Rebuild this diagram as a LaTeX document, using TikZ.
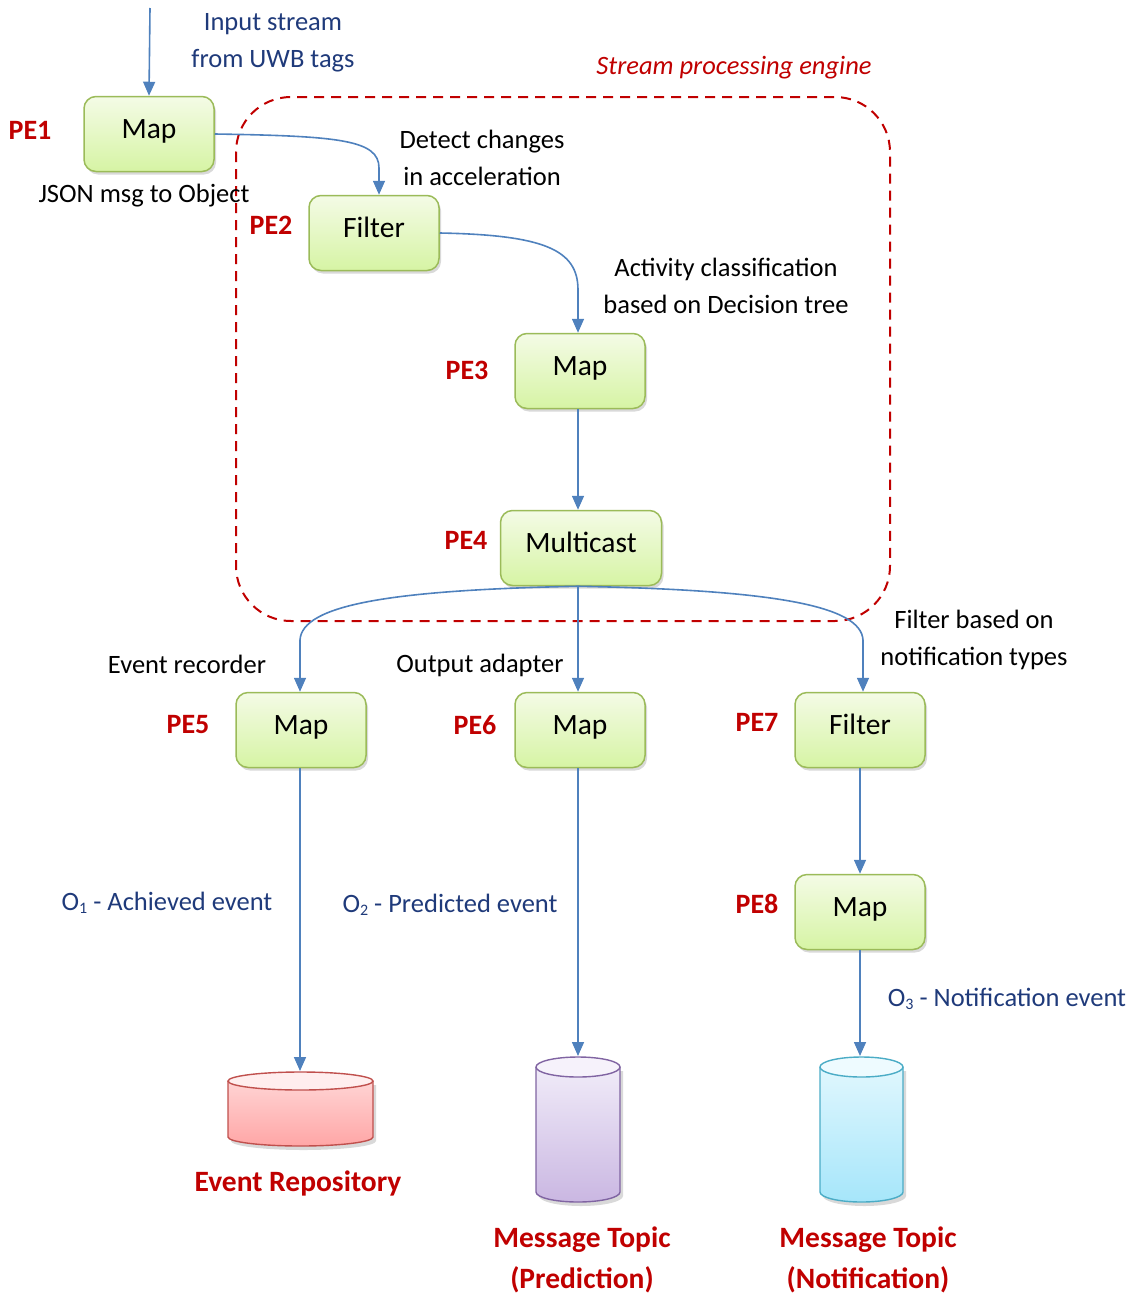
\documentclass[tikz,border=0pt]{standalone}
\usepackage{fontspec}
\setmainfont{Carlito}
\usetikzlibrary{arrows.meta,shadows,calc}

\definecolor{flowblue}{HTML}{4F81BD}
\definecolor{pered}{HTML}{C00000}
\definecolor{navytext}{HTML}{1F3A7A}
\definecolor{boxedge}{HTML}{9BBB59}
\definecolor{boxtop}{HTML}{F4FBE6}
\definecolor{boxbot}{HTML}{D6F4A4}
\definecolor{repoedge}{HTML}{C0504D}
\definecolor{repotop}{HTML}{FFDADA}
\definecolor{repobot}{HTML}{FFA6A6}
\definecolor{repocap}{HTML}{FFEEEE}
\definecolor{prededge}{HTML}{8064A2}
\definecolor{predtop}{HTML}{F3EFFA}
\definecolor{predbot}{HTML}{CAB7E2}
\definecolor{predcap}{HTML}{F6F2FB}
\definecolor{notiedge}{HTML}{4BACC6}
\definecolor{notitop}{HTML}{E4F8FE}
\definecolor{notibot}{HTML}{A6E6FA}
\definecolor{noticap}{HTML}{EEFBFF}

\tikzset{
  pebox/.style={draw=boxedge, line width=1.5pt, rounded corners=12pt,
    top color=boxtop, bottom color=boxbot,
    minimum width=130pt, minimum height=75pt, inner sep=0pt,
    text height=22pt, text depth=13pt,
    font=\fontsize{29.5}{34}\selectfont,
    drop shadow={shadow xshift=2pt, shadow yshift=-3pt, opacity=0.3}},
  pelabel/.style={text=pered, font=\fontsize{28}{32}\selectfont\bfseries, inner sep=0pt},
  note/.style={font=\fontsize{26.5}{37}\selectfont, align=center, inner sep=0pt},
  flow/.style={draw=flowblue, line width=1.6pt, -{Triangle[width=12pt,length=14pt]}},
  storelabel/.style={text=pered, font=\fontsize{29.5}{41}\selectfont\bfseries, align=center, inner sep=0pt}
}
\newcommand{\sbs}[1]{\raisebox{-3pt}{\fontsize{16}{16}\selectfont #1}}

\begin{document}
\begin{tikzpicture}[x=1pt,y=1pt]
\useasboundingbox (0,0) rectangle (1133,-1296);

% engine boundary
\draw[pered, line width=2pt, dash pattern=on 10pt off 7pt, rounded corners=55pt]
  (236,-97) rectangle (890,-621);
\node[note, text=pered, font=\fontsize{26.5}{32}\selectfont\itshape] (engine) at (734,-68) {Stream processing engine};

% processing elements
\node[pebox] (PE1) at (149,-134) {Map};
\node[pebox] (PE2) at (374,-233) {Filter};
\node[pebox] (PE3) at (580,-371) {Map};
\node[pebox, minimum width=161pt] (PE4) at (581,-548) {Multicast};
\node[pebox] (PE5) at (301,-730) {Map};
\node[pebox] (PE6) at (580,-730) {Map};
\node[pebox] (PE7) at (860,-730) {Filter};
\node[pebox] (PE8) at (860,-912) {Map};

\node[pelabel] (L1) at (30,-130) {PE1};
\node[pelabel] (L2) at (271,-225) {PE2};
\node[pelabel] (L3) at (467,-370) {PE3};
\node[pelabel] (L4) at (466,-540) {PE4};
\node[pelabel] (L5) at (188,-725) {PE5};
\node[pelabel] (L6) at (475,-725) {PE6};
\node[pelabel] (L7) at (757,-722) {PE7};
\node[pelabel] (L8) at (757,-904) {PE8};

% annotations
\node[note, text=navytext] (instream) at (273,-43) {Input stream\\from UWB tags};
\node[note] (json) at (144,-196) {JSON msg to Object};
\node[note] (detect) at (482,-158) {Detect changes\\in acceleration};
\node[note] (activity) at (726,-286) {Activity classification\\based on Decision tree};
\node[note] (recorder) at (187,-664) {Event recorder};
\node[note] (adapter) at (480,-665) {Output adapter};
\node[note] (notif) at (974,-640) {Filter based on\\notification types};
\node[note, text=navytext] (o1) at (167,-903) {O\sbs{1} - Achieved event};
\node[note, text=navytext] (o2) at (450,-905) {O\sbs{2} - Predicted event};
\node[note, text=navytext] (o3) at (1007,-999) {O\sbs{3} - Notification event};

% event repository (red store)
\fill[black, opacity=0.15] (231,-1085) -- (231,-1141) arc[start angle=180,end angle=360,x radius=72.5,y radius=9] -- (376,-1085) -- cycle;
\shade[top color=repotop, bottom color=repobot]
  (228,-1081) -- (228,-1137) arc[start angle=180,end angle=360,x radius=72.5,y radius=9]
  -- (373,-1081) arc[start angle=0,end angle=180,x radius=72.5,y radius=9] -- cycle;
\draw[draw=repoedge, line width=1.4pt]
  (228,-1081) -- (228,-1137) arc[start angle=180,end angle=360,x radius=72.5,y radius=9]
  -- (373,-1081);
\draw[draw=repoedge, line width=1.4pt, fill=repocap] (300.5,-1081) ellipse[x radius=72.5,y radius=9];
\coordinate (repo) at (300,-1071);
\node[storelabel] (repolabel) at (298,-1183) {Event Repository};

% prediction topic (purple store)
\fill[black, opacity=0.15] (539,-1071) -- (539,-1196) arc[start angle=180,end angle=360,x radius=42,y radius=10] -- (623,-1071) -- cycle;
\shade[top color=predtop, bottom color=predbot]
  (536,-1067) -- (536,-1192) arc[start angle=180,end angle=360,x radius=42,y radius=10]
  -- (620,-1067) arc[start angle=0,end angle=180,x radius=42,y radius=10] -- cycle;
\draw[draw=prededge, line width=1.4pt]
  (536,-1067) -- (536,-1192) arc[start angle=180,end angle=360,x radius=42,y radius=10]
  -- (620,-1067);
\draw[draw=prededge, line width=1.4pt, fill=predcap] (578,-1067) ellipse[x radius=42,y radius=10];
\coordinate (pred) at (578,-1056);
\node[storelabel] (predlabel) at (582,-1260) {Message Topic\\(Prediction)};

% notification topic (cyan store)
\fill[black, opacity=0.15] (823,-1071) -- (823,-1196) arc[start angle=180,end angle=360,x radius=41.5,y radius=10] -- (906,-1071) -- cycle;
\shade[top color=notitop, bottom color=notibot]
  (820,-1067) -- (820,-1192) arc[start angle=180,end angle=360,x radius=41.5,y radius=10]
  -- (903,-1067) arc[start angle=0,end angle=180,x radius=41.5,y radius=10] -- cycle;
\draw[draw=notiedge, line width=1.4pt]
  (820,-1067) -- (820,-1192) arc[start angle=180,end angle=360,x radius=41.5,y radius=10]
  -- (903,-1067);
\draw[draw=notiedge, line width=1.4pt, fill=noticap] (861.5,-1067) ellipse[x radius=41.5,y radius=10];
\coordinate (noti) at (860,-1056);
\node[storelabel] (notilabel) at (868,-1260) {Message Topic\\(Notification)};

% input stream
\coordinate (src) at (150,-8);
\draw[flow] (src) -- (PE1.north);

% connectors between processing elements
\draw[flow] (PE1.east) .. controls (340,-136) and (379,-140) .. (379,-168) -- ([xshift=5pt]PE2.north);
\draw[flow] (PE2.east) .. controls (545,-235) and (578,-250) .. (578,-290) -- ([xshift=-2pt]PE3.north);
\draw[flow] ([xshift=-2pt]PE3.south) -- ([xshift=-3pt]PE4.north);
\draw[flow] ([xshift=-3pt]PE4.south) .. controls (390,-590) and (302,-605) .. (300,-640) -- ([xshift=-1pt]PE5.north);
\draw[flow] ([xshift=-3pt]PE4.south) -- ([xshift=-2pt]PE6.north);
\draw[flow] ([xshift=-3pt]PE4.south) .. controls (770,-590) and (861,-605) .. (863,-640) -- ([xshift=3pt]PE7.north);
\draw[flow] (PE7.south) -- (PE8.north);
\draw[flow] ([xshift=-1pt]PE5.south) -- (repo);
\draw[flow] ([xshift=-2pt]PE6.south) -- (pred);
\draw[flow] (PE8.south) -- (noti);
\end{tikzpicture}
\end{document}
